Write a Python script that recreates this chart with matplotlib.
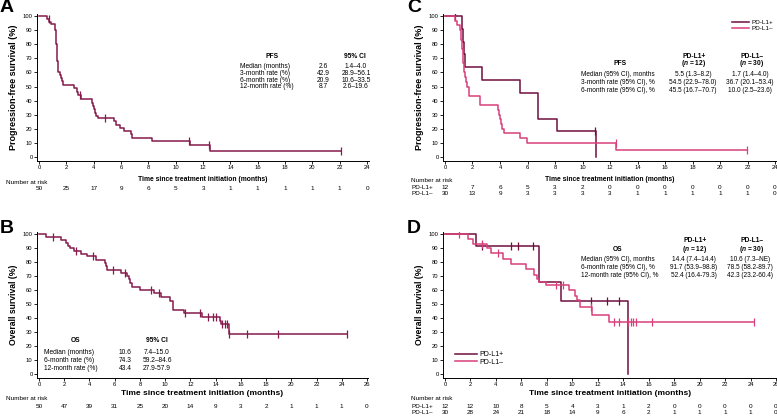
import numpy as np
import matplotlib
matplotlib.use("Agg")
import matplotlib.pyplot as plt
from matplotlib.transforms import blended_transform_factory

plt.rcParams['font.family'] = ['Liberation Sans', 'DejaVu Sans']
plt.rcParams['mathtext.fontset'] = 'custom'
plt.rcParams['mathtext.it'] = 'Liberation Sans:italic:bold'

# ---- data ----
# A: PFS, all patients
pfs_t = [0, 0.55, 0.73, 0.9, 1.2, 1.24, 1.27, 1.3, 1.33, 1.36, 1.4, 1.5, 1.6, 1.7, 1.78,
         2.54, 2.74, 2.86, 3.05, 3.84, 3.96, 4.02, 4.1, 4.2, 4.28, 5.5, 5.62, 5.92, 6.2,
         6.72, 6.77, 8.24, 11.05, 12.5, 22.1]
pfs_s = [100, 98, 96, 94, 90, 86, 80, 74, 68, 64, 60, 58, 56, 54, 51,
         48.6, 46.3, 44, 41, 38.6, 36.2, 33.8, 31.4, 29, 27.9, 25.5, 23, 20.6, 18.2,
         16, 13.7, 11.4, 8.6, 4.3, 4.3]
pfs_cens = [0.7, 2.98, 4.84, 10.98, 12.44, 22.1]
pfs_risk = [50, 25, 17, 9, 6, 5, 3, 1, 1, 1, 1, 1, 0]

# B: OS, all patients
os_t = [0, 0.58, 1.77, 2.17, 2.3, 2.43, 2.75, 3.36, 3.8, 4.55, 5.2, 5.3, 5.4, 6.46,
        6.94, 7.1, 7.2, 7.39, 8.0, 9.1, 9.7, 10.38, 10.6, 11.5, 12.9, 14.35, 14.45,
        15.04, 24.4]
os_s = [100, 97.6, 95.7, 93.5, 91.5, 89.8, 88, 86, 84, 81.5, 79, 77, 74.6, 72,
        70, 68, 65, 62, 60, 57.5, 55, 52, 46, 43.5, 40.4, 38, 35.5,
        28.8, 28.8]
os_cens = [1.1, 2.97, 4.24, 5.88, 6.8, 8.87, 9.5, 11.57, 12.76, 13.4, 13.8, 14.0,
           14.5, 14.75, 14.9, 15.1, 16.47, 18.93, 24.4]
os_risk = [50, 47, 39, 31, 25, 20, 14, 9, 3, 2, 1, 1, 1, 0]

# C: PFS by PD-L1 status
cpos_t = [0, 1.25, 1.32, 1.38, 1.46, 2.7, 5.49, 6.75, 8.16, 10.95]
cpos_s = [100, 90.9, 81.8, 72.7, 63.6, 54.5, 45.5, 27.3, 18.2, 0]
cpos_cens = [0.7, 10.9]
cneg_t = [0, 0.7, 0.9, 1.1, 1.15, 1.2, 1.22, 1.25, 1.28, 1.3, 1.33, 1.36, 1.4, 1.45,
          1.55, 1.62, 1.72, 2.57, 3.85, 3.92, 4.0, 4.1, 4.18, 4.27, 5.49, 5.97,
          12.45, 21.95]
cneg_s = [100, 96.7, 93.3, 90, 86.7, 83.3, 80, 76.7, 73.3, 70, 66.7, 63.3, 60, 56.7,
          53.3, 50, 43.3, 36.7, 33.3, 30, 26.7, 23.3, 20, 16.7, 13.3, 10,
          5, 5]
cneg_cens = [12.4, 21.95]
cpos_risk = [12, 7, 6, 5, 3, 2, 0, 0, 0, 0, 0, 0, 0]
cneg_risk = [30, 13, 9, 3, 3, 3, 3, 1, 1, 1, 1, 1, 0]

# D: OS by PD-L1 status
dpos_t = [0, 2.4, 7.35, 9.08, 14.35]
dpos_s = [100, 91.7, 65.5, 52.4, 0]
dpos_cens = [2.9, 5.2, 5.75, 6.9, 11.5, 12.7, 13.7]
dneg_t = [0, 1.78, 2.18, 3.3, 3.62, 4.54, 5.15, 6.38, 7.03, 7.2, 7.35, 7.95, 9.74,
          10.24, 10.4, 10.58, 11.55, 12.9, 24.25]
dneg_s = [100, 96.6, 93.1, 89.7, 86.2, 82.1, 78.5, 74.8, 71.0, 68.0, 65.5, 63.2, 59.7,
          56.0, 52.6, 47.8, 42.3, 37.4, 37.4]
dneg_cens = [1.1, 2.9, 4.2, 8.74, 9.27, 11.5, 13.3, 13.7, 14.4, 14.6, 14.8, 15.0,
             16.3, 24.25]
dpos_risk = [12, 12, 10, 8, 5, 4, 3, 1, 2, 0, 0, 0, 0, 0]
dneg_risk = [30, 28, 24, 21, 18, 14, 9, 6, 2, 1, 1, 1, 1, 0]

c_all = '#861a4c'
c_pos = '#6f0f3e'
c_neg = '#d8407a'

W, H = 777, 416
fig = plt.figure(figsize=(W / 100, H / 100), dpi=100)


def box(l, t, r, b):
    return [l / W, 1 - b / H, (r - l) / W, (b - t) / H]


def fy(py):
    return 1 - py / H


def ftext(px, py, s, **kw):
    kw.setdefault('fontsize', 4.8)
    kw.setdefault('va', 'center')
    fig.text(px / W, fy(py), s, **kw)


def km(ax, t, s, cens, color):
    ax.plot(t, s, drawstyle='steps-post', color=color, lw=1.1)
    t = np.asarray(t)
    idx = np.searchsorted(t, cens, side='right') - 1
    ax.plot(cens, np.asarray(s)[idx], ls='none', marker='|', ms=6, mew=0.9, color=color)


def style(ax, xmax, xl, yl, ylab, ylab_size, xlab_size, xlab_y):
    ax.set_xlim(*xl)
    ax.set_ylim(*yl)
    ax.set_xticks(np.arange(0, xmax + 1, 2))
    ax.set_yticks(np.arange(0, 101, 10))
    for sp in ['top', 'right']:
        ax.spines[sp].set_visible(False)
    for sp in ['left', 'bottom']:
        ax.spines[sp].set_linewidth(0.7)
    ax.tick_params(labelsize=4.2, length=2, width=0.6, pad=1.2)
    ax.set_ylabel(ylab, fontsize=ylab_size, fontweight='bold')
    ax.yaxis.set_label_coords(-0.056, 0.5)
    ax.set_xlabel('Time since treatment initiation (months)', fontsize=xlab_size,
                  fontweight='bold')
    ax.xaxis.set_label_coords(0.5, xlab_y)


def risk_row(ax, counts, py):
    tr = blended_transform_factory(ax.transData, fig.transFigure)
    for i, n in enumerate(counts):
        ax.text(2 * i, fy(py), str(n), transform=tr, ha='center', va='center',
                fontsize=4.6)


# ---- A ----
axA = fig.add_axes(box(37, 14, 368.5, 161))
km(axA, pfs_t, pfs_s, pfs_cens, c_all)
style(axA, 24, (-0.15, 24.1), (-2.8, 101.4), 'Progression-free survival (%)', 6.5, 4.9, -0.105)
ftext(6, 182, 'Number at risk', fontsize=4.6)
risk_row(axA, pfs_risk, 188.5)
ftext(272, 57, 'PFS', ha='center', fontweight='bold')
ftext(355, 57, '95% CI', ha='center', fontweight='bold')
rowsA = [('Median (months)', '2.6', '1.4\u20134.0'),
         ('3-month rate (%)', '42.9', '28.9\u201356.1'),
         ('6-month rate (%)', '20.9', '10.6\u201333.5'),
         ('12-month rate (%)', '8.7', '2.6\u201319.6')]
for i, (a, b, c) in enumerate(rowsA):
    y = 66.7 + 6.7 * i
    ftext(240, y, a)
    ftext(323, y, b, ha='center')
    ftext(356, y, c, ha='center')
ftext(0, 7, 'A', fontsize=14, fontweight='bold')

# ---- B ----
axB = fig.add_axes(box(37, 232, 368, 378))
km(axB, os_t, os_s, os_cens, c_all)
style(axB, 26, (-0.16, 26.08), (-2.86, 101.4), 'Overall survival (%)', 6.2, 6.0, -0.085)
ftext(6, 398, 'Number at risk', fontsize=4.6)
risk_row(axB, os_risk, 406)
ftext(76, 341, 'OS', ha='center', fontweight='bold')
ftext(157, 341, '95% CI', ha='center', fontweight='bold')
rowsB = [('Median (months)', '10.6', '7.4\u201315.0'),
         ('6-month rate (%)', '74.3', '59.2\u201384.6'),
         ('12-month rate (%)', '43.4', '27.9-57.9')]
for i, (a, b, c) in enumerate(rowsB):
    y = 352.3 + 8.3 * i
    ftext(44, y, a)
    ftext(125, y, b, ha='center')
    ftext(157, y, c, ha='center')
ftext(0, 228, 'B', fontsize=14, fontweight='bold')

# ---- C ----
axC = fig.add_axes(box(443, 14, 776, 161))
km(axC, cpos_t, cpos_s, cpos_cens, c_pos)
km(axC, cneg_t, cneg_s, cneg_cens, c_neg)
style(axC, 24, (-0.145, 24.07), (-2.8, 101.4), 'Progression-free survival (%)', 6.5, 4.9, -0.105)
axC.plot([], [], color=c_pos, lw=1.1, label='PD-L1+')
axC.plot([], [], color=c_neg, lw=1.1, label='PD-L1\u2013')
hs, ls = axC.get_legend_handles_labels()
axC.legend(hs[-2:], ls[-2:], loc='upper right', bbox_to_anchor=(1.0, 0.985),
           frameon=False, fontsize=4.6, handlelength=2.6, handletextpad=0.4,
           labelspacing=0.15, borderpad=0)
ftext(411, 181, 'Number at risk', fontsize=4.6)
ftext(411, 188, 'PD-L1+', fontsize=4.6)
ftext(411, 193.5, 'PD-L1\u2013', fontsize=4.6)
risk_row(axC, cpos_risk, 188)
risk_row(axC, cneg_risk, 193.5)
ftext(694, 56, 'PD-L1+', ha='center', fontweight='bold')
ftext(694, 63.6, r'($\it{n}$ = 12)', ha='center', fontweight='bold')
ftext(752, 56, 'PD-L1\u2013', ha='center', fontweight='bold')
ftext(752, 63.6, r'($\it{n}$ = 30)', ha='center', fontweight='bold')
ftext(620, 63.6, 'PFS', ha='center', fontweight='bold')
rowsC = [('Median (95% CI), months', '5.5 (1.3\u20138.2)', '1.7 (1.4\u20134.0)'),
         ('3-month rate (95% CI), %', '54.5 (22.9\u201378.0)', '36.7 (20.1\u201353.4)'),
         ('6-month rate (95% CI), %', '45.5 (16.7\u201370.7)', '10.0 (2.5\u201323.6)')]
for i, (a, b, c) in enumerate(rowsC):
    y = 75 + 7.5 * i
    ftext(581, y, a, fontsize=4.7)
    ftext(693, y, b, ha='center', fontsize=4.7)
    ftext(750, y, c, ha='center', fontsize=4.7)
ftext(407, 7, 'C', fontsize=14, fontweight='bold')

# ---- D ----
axD = fig.add_axes(box(443, 232, 777, 378))
km(axD, dpos_t, dpos_s, dpos_cens, c_pos)
km(axD, dneg_t, dneg_s, dneg_cens, c_neg)
style(axD, 26, (-0.157, 26.08), (-2.86, 101.4), 'Overall survival (%)', 6.2, 6.0, -0.085)
axD.plot([], [], color=c_pos, lw=1.1, label='PD-L1+')
axD.plot([], [], color=c_neg, lw=1.1, label='PD-L1\u2013')
hs, ls = axD.get_legend_handles_labels()
axD.legend(hs[-2:], ls[-2:], loc='lower left', bbox_to_anchor=(0.025, 0.06),
           frameon=False, fontsize=5, handlelength=3.2, handletextpad=0.4,
           labelspacing=0.1, borderpad=0)
ftext(411, 399, 'Number at risk', fontsize=4.6)
ftext(411, 407, 'PD-L1+', fontsize=4.6)
ftext(411, 412, 'PD-L1\u2013', fontsize=4.6)
risk_row(axD, dpos_risk, 407)
risk_row(axD, dneg_risk, 412.3)
ftext(695, 240.2, 'PD-L1+', ha='center', fontweight='bold')
ftext(695, 249.6, r'($\it{n}$ = 12)', ha='center', fontweight='bold')
ftext(752, 240.2, 'PD-L1\u2013', ha='center', fontweight='bold')
ftext(752, 249.6, r'($\it{n}$ = 30)', ha='center', fontweight='bold')
ftext(618, 249.6, 'OS', ha='center', fontweight='bold')
rowsD = [('Median (95% CI), months', '14.4 (7.4\u201314.4)', '10.6 (7.3\u2013NE)'),
         ('6-month rate (95% CI), %', '91.7 (53.9\u201398.8)', '78.5 (58.2-89.7)'),
         ('12-month rate (95% CI), %', '52.4 (16.4-79.3)', '42.3 (23.2-60.4)')]
for i, (a, b, c) in enumerate(rowsD):
    y = 259.3 + 8.3 * i
    ftext(581, y, a, fontsize=4.7)
    ftext(694, y, b, ha='center', fontsize=4.7)
    ftext(750, y, c, ha='center', fontsize=4.7)
ftext(407, 228, 'D', fontsize=14, fontweight='bold')

fig.savefig('out.png', dpi=100)
